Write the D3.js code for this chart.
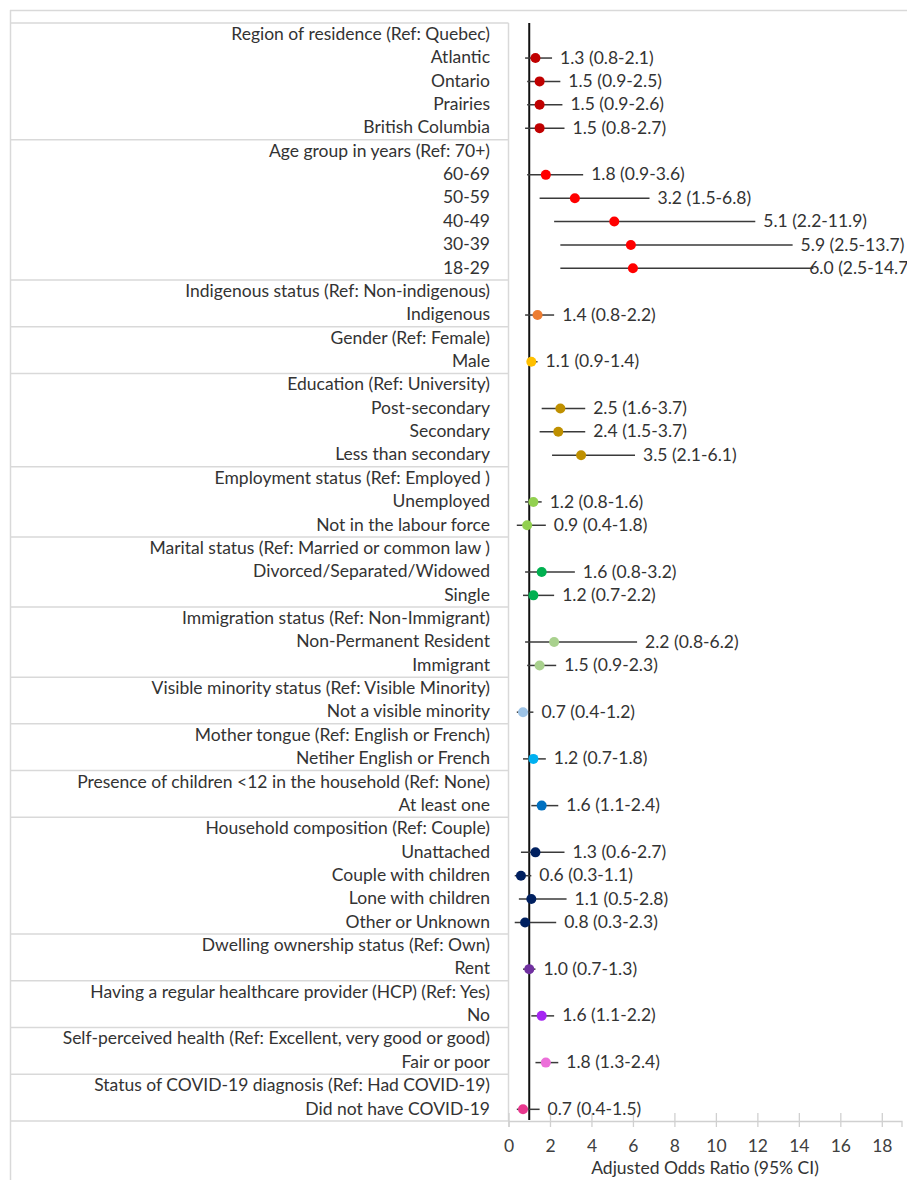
<!DOCTYPE html>
<html lang="en">
<head>
<meta charset="UTF-8">
<title>Adjusted Odds Ratio (95% CI)</title>
<script src="https://cdn.jsdelivr.net/npm/d3@7"></script>
<style>
  body { margin: 0; background: #fff; }
  svg { display: block; font-family: Lato, "Open Sans", sans-serif; }
  .row-label { font-size: 17.5px; fill: #333; text-anchor: end; }
  .value-label { font-size: 17.5px; fill: #333; }
  .frame { stroke: #d9d9d9; stroke-width: 1.5; }
  .axis text { font-size: 17.5px; fill: #404040; font-family: Lato, "Open Sans", sans-serif; }
  .axis line, .axis path { stroke: #d0d0d0; stroke-width: 1.3; }
</style>
</head>
<body>
<svg width="907" height="1180"></svg>
<script>
// group headers (reference categories) and their dot colours
const groups = [
  "Region of residence (Ref: Quebec)",
  "Age group in years (Ref: 70+)",
  "Indigenous status (Ref: Non-indigenous)",
  "Gender (Ref: Female)",
  "Education (Ref: University)",
  "Employment status (Ref: Employed )",
  "Marital status (Ref: Married or common law )",
  "Immigration status (Ref: Non-Immigrant)",
  "Visible minority status (Ref: Visible Minority)",
  "Mother tongue (Ref: English or French)",
  "Presence of children <12 in the household (Ref: None)",
  "Household composition (Ref: Couple)",
  "Dwelling ownership status (Ref: Own)",
  "Having a regular healthcare provider (HCP) (Ref: Yes)",
  "Self-perceived health (Ref: Excellent, very good or good)",
  "Status of COVID-19 diagnosis (Ref: Had COVID-19)"
];
const groupColors = [
  "#c00000", "#ff0000", "#ed7d31", "#ffc000", "#bf9000", "#92d050", "#00b050", "#a9d18e",
  "#9dc3e6", "#00b0f0", "#0070c0", "#002060", "#7030a0", "#a526f2", "#ec6fd9", "#e8388e"
];

const categories = [
  "Atlantic", "Ontario", "Prairies", "British Columbia",
  "60-69", "50-59", "40-49", "30-39", "18-29",
  "Indigenous",
  "Male",
  "Post-secondary", "Secondary", "Less than secondary",
  "Unemployed", "Not in the labour force",
  "Divorced/Separated/Widowed", "Single",
  "Non-Permanent Resident", "Immigrant",
  "Not a visible minority",
  "Netiher English or French",
  "At least one",
  "Unattached", "Couple with children", "Lone with children", "Other or Unknown",
  "Rent",
  "No",
  "Fair or poor",
  "Did not have COVID-19"
];
const categoryGroup = [0, 0, 0, 0, 1, 1, 1, 1, 1, 2, 3, 4, 4, 4, 5, 5, 6, 6, 7, 7, 8, 9, 10, 11, 11, 11, 11, 12, 13, 14, 15];
const oddsRatio = [1.3, 1.5, 1.5, 1.5, 1.8, 3.2, 5.1, 5.9, 6.0, 1.4, 1.1, 2.5, 2.4, 3.5, 1.2, 0.9, 1.6, 1.2, 2.2, 1.5, 0.7, 1.2, 1.6, 1.3, 0.6, 1.1, 0.8, 1.0, 1.6, 1.8, 0.7];
const ciLower = [0.8, 0.9, 0.9, 0.8, 0.9, 1.5, 2.2, 2.5, 2.5, 0.8, 0.9, 1.6, 1.5, 2.1, 0.8, 0.4, 0.8, 0.7, 0.8, 0.9, 0.4, 0.7, 1.1, 0.6, 0.3, 0.5, 0.3, 0.7, 1.1, 1.3, 0.4];
const ciUpper = [2.1, 2.5, 2.6, 2.7, 3.6, 6.8, 11.9, 13.7, 14.7, 2.2, 1.4, 3.7, 3.7, 6.1, 1.6, 1.8, 3.2, 2.2, 6.2, 2.3, 1.2, 1.8, 2.4, 2.7, 1.1, 2.8, 2.3, 1.3, 2.2, 2.4, 1.5];
const xTicks = [0, 2, 4, 6, 8, 10, 12, 14, 16, 18];

const width = 907, height = 1180;
const tableLeft = 10, tableRight = 508.5, tableTop = 23, tableBottom = 1121;

// one row per header, then its categories
const rows = [];
groups.forEach((g, gi) => {
  rows.push({ label: g, header: true, group: gi });
  categories.forEach((c, i) => {
    if (categoryGroup[i] === gi) {
      rows.push({ label: c, header: false, group: gi, or: oddsRatio[i], lo: ciLower[i], hi: ciUpper[i] });
    }
  });
});

const svg = d3.select("svg");

const x = d3.scaleLinear().domain([0, 18.95]).range([tableRight, 901.5]);
const y = d3.scaleBand().domain(d3.range(rows.length)).range([tableTop, tableBottom]);
const yc = i => y(i) + y.bandwidth() / 2;

// chart frame (top and left edges)
svg.append("line").attr("class", "frame")
  .attr("x1", tableLeft).attr("x2", width).attr("y1", 10.5).attr("y2", 10.5);
svg.append("line").attr("class", "frame")
  .attr("x1", tableLeft + 0.5).attr("x2", tableLeft + 0.5).attr("y1", 10).attr("y2", height);

// label table: lines at group boundaries
const boundaries = rows.map((r, i) => i).filter(i => rows[i].header).map(i => y(i)).concat([tableBottom]);
svg.append("g").selectAll("line")
  .data(boundaries)
  .join("line")
  .attr("class", "frame")
  .attr("x1", tableLeft).attr("x2", tableRight)
  .attr("y1", d => d).attr("y2", d => d);
svg.append("line").attr("class", "frame")
  .attr("x1", tableRight).attr("x2", tableRight).attr("y1", tableTop).attr("y2", tableBottom);

svg.append("g").selectAll("text")
  .data(rows)
  .join("text")
  .attr("class", "row-label")
  .attr("x", 490)
  .attr("y", (d, i) => yc(i))
  .attr("dy", "0.3em")
  .text(d => d.label);

// x axis
const axis = svg.append("g")
  .attr("class", "axis")
  .attr("transform", `translate(0,${tableBottom})`)
  .call(d3.axisBottom(x).tickValues(xTicks).tickSizeOuter(0).tickSize(6).tickPadding(13));
axis.selectAll(".tick line").attr("y1", -8).attr("y2", 6);

svg.append("text")
  .attr("x", (tableRight + 901.5) / 2)
  .attr("y", 1168)
  .attr("dy", "0.35em")
  .attr("text-anchor", "middle")
  .attr("font-size", "17.5px")
  .attr("fill", "#333")
  .text("Adjusted Odds Ratio (95% CI)");

// reference line at OR = 1
svg.append("line")
  .attr("x1", x(1)).attr("x2", x(1))
  .attr("y1", tableTop).attr("y2", tableBottom - 1)
  .attr("stroke", "#111").attr("stroke-width", 2);

const est = rows.map((r, i) => Object.assign({ i }, r)).filter(r => !r.header);

svg.append("g").selectAll("line")
  .data(est)
  .join("line")
  .attr("x1", d => x(d.lo)).attr("x2", d => x(d.hi))
  .attr("y1", d => yc(d.i)).attr("y2", d => yc(d.i))
  .attr("stroke", "#3a3a3a").attr("stroke-width", 1.5);

svg.append("g").selectAll("circle")
  .data(est)
  .join("circle")
  .attr("cx", d => x(d.or))
  .attr("cy", d => yc(d.i))
  .attr("r", 5)
  .attr("fill", d => groupColors[d.group]);

// value labels sit right of the CI; the widest one is pushed back and runs off the edge as in the source
svg.append("g").selectAll("text")
  .data(est)
  .join("text")
  .attr("class", "value-label")
  .attr("y", d => yc(d.i))
  .attr("dy", "0.32em")
  .text(d => `${d.or.toFixed(1)} (${d.lo.toFixed(1)}-${d.hi.toFixed(1)})`)
  .attr("x", function (d) {
    const w = this.getComputedTextLength();
    return Math.min(x(d.hi) + 8, width - w + 6);
  });
</script>
</body>
</html>
